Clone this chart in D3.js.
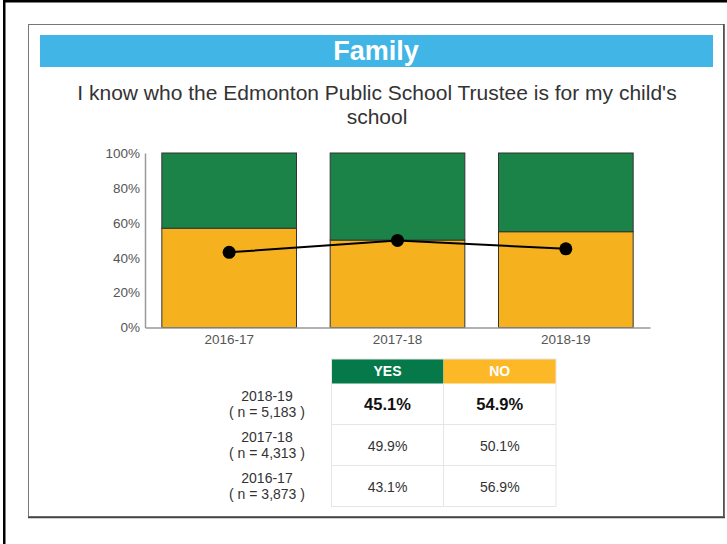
<!DOCTYPE html>
<html>
<head>
<meta charset="utf-8">
<script src="https://cdn.jsdelivr.net/npm/d3@7"></script>
<style>
  html, body { margin: 0; padding: 0; background: #fff; }
  svg { display: block; font-family: "Liberation Sans", Arial, sans-serif; }
</style>
</head>
<body>
<svg id="chart" width="727" height="544"></svg>
<script>
const categories = ["2016-17", "2017-18", "2018-19"];
const yesValues = [43.1, 49.9, 45.1];
const noValues = [56.9, 50.1, 54.9];
const yTicks = [0, 20, 40, 60, 80, 100];
const tableRows = ["2018-19", "2017-18", "2016-17"];
const tableN = ["5,183", "4,313", "3,873"];
const tableYes = ["45.1%", "49.9%", "43.1%"];
const tableNo = ["54.9%", "50.1%", "56.9%"];
const titleText = "Family";
const subtitleLines = ["I know who the Edmonton Public School Trustee is for my child's", "school"];

const svg = d3.select("#chart");
const FF = "Liberation Sans, Arial, sans-serif";

// outer page frame
svg.append("rect").attr("x", 3).attr("y", 0).attr("width", 2.5).attr("height", 544).attr("fill", "#000");
svg.append("rect").attr("x", 3).attr("y", 0).attr("width", 724).attr("height", 2.5).attr("fill", "#000");

// inner box with shadow-like edges
svg.append("rect").attr("x", 28.5).attr("y", 24.5).attr("width", 695).attr("height", 492)
  .attr("fill", "#fff").attr("stroke", "#777").attr("stroke-width", 1);
svg.append("line").attr("x1", 724).attr("x2", 724).attr("y1", 24).attr("y2", 518).attr("stroke", "#444").attr("stroke-width", 1.5);
svg.append("line").attr("x1", 28).attr("x2", 725).attr("y1", 517.5).attr("y2", 517.5).attr("stroke", "#444").attr("stroke-width", 1.5);

// banner
svg.append("rect").attr("x", 40).attr("y", 35).attr("width", 673).attr("height", 32).attr("fill", "#41B5E6");
svg.append("text").attr("x", 376).attr("y", 60).attr("text-anchor", "middle")
  .attr("fill", "#fff").attr("font-weight", "bold").attr("font-size", 27).text(titleText);

// subtitle
subtitleLines.forEach((t, i) => {
  svg.append("text").attr("x", 377).attr("y", 100 + i * 24).attr("text-anchor", "middle")
    .attr("fill", "#333").attr("font-size", 21).text(t);
});

// chart
const x = d3.scaleBand().domain(categories).range([145, 650]).paddingInner(0.2).paddingOuter(0.1);
const y = d3.scaleLinear().domain([0, 100]).range([327.5, 153]);

const g = svg.append("g");
const yellow = "#F5B21E", green = "#1C8348";

g.selectAll(".no").data(categories).join("rect")
  .attr("x", d => x(d)).attr("width", x.bandwidth())
  .attr("y", (d, i) => y(noValues[i])).attr("height", (d, i) => y(0) - y(noValues[i]))
  .attr("fill", yellow).attr("stroke", "#333").attr("stroke-width", 1);
g.selectAll(".yes").data(categories).join("rect")
  .attr("x", d => x(d)).attr("width", x.bandwidth())
  .attr("y", (d, i) => y(noValues[i] + yesValues[i])).attr("height", (d, i) => y(noValues[i]) - y(noValues[i] + yesValues[i]))
  .attr("fill", green).attr("stroke", "#333").attr("stroke-width", 1);

// axes
const yAxis = d3.axisLeft(y).tickValues(yTicks).tickFormat(d => d + "%").tickSize(0).tickPadding(5);
const ya = svg.append("g").attr("transform", "translate(145,0)").call(yAxis);
ya.select(".domain").attr("stroke", "#999").attr("stroke-width", 1.5);
ya.selectAll("text").attr("fill", "#555").attr("font-size", 13.5).attr("font-family", FF);

const xAxis = d3.axisBottom(x).tickSize(0).tickPadding(7).tickSizeOuter(0);
const xa = svg.append("g").attr("transform", "translate(0,327.5)").call(xAxis);
xa.select(".domain").attr("stroke", "#999").attr("stroke-width", 1.5);
xa.selectAll("text").attr("fill", "#555").attr("font-size", 13.5).attr("font-family", FF);

// line
const line = d3.line().x(d => x(d.c) + x.bandwidth() / 2).y(d => y(d.v));
const pts = categories.map((c, i) => ({ c, v: yesValues[i] }));
svg.append("path").datum(pts).attr("d", line).attr("fill", "none").attr("stroke", "#000").attr("stroke-width", 2);
svg.selectAll(".pt").data(pts).join("circle")
  .attr("cx", d => x(d.c) + x.bandwidth() / 2).attr("cy", d => y(d.v)).attr("r", 6.5).attr("fill", "#000");

// table
const colX = [331.5, 443.5, 556];
const headerTop = 359, headerH = 24.5, rowH = 41;
const tg = svg.append("g");
tg.append("rect").attr("x", colX[0]).attr("y", headerTop).attr("width", colX[1] - colX[0]).attr("height", headerH).attr("fill", "#06794A");
tg.append("rect").attr("x", colX[1]).attr("y", headerTop).attr("width", colX[2] - colX[1]).attr("height", headerH).attr("fill", "#FDB827");
[["YES", 0], ["NO", 1]].forEach(([t, i]) => {
  tg.append("text").attr("x", (colX[i] + colX[i + 1]) / 2).attr("y", headerTop + 17).attr("text-anchor", "middle")
    .attr("fill", "#fff").attr("font-weight", "bold").attr("font-size", 14).text(t);
});
tg.append("rect").attr("x", colX[0]).attr("y", headerTop).attr("width", colX[2] - colX[0]).attr("height", headerH + rowH * 3)
  .attr("fill", "none").attr("stroke", "#e6e6e6").attr("stroke-width", 1);
tg.append("line").attr("x1", colX[1]).attr("x2", colX[1]).attr("y1", headerTop + headerH).attr("y2", headerTop + headerH + rowH * 3)
  .attr("stroke", "#e6e6e6");
tableRows.forEach((r, i) => {
  const top = headerTop + headerH + i * rowH;
  if (i > 0) tg.append("line").attr("x1", colX[0]).attr("x2", colX[2]).attr("y1", top).attr("y2", top).attr("stroke", "#e6e6e6");
  tg.append("text").attr("x", 267).attr("y", top + 17).attr("text-anchor", "middle").attr("fill", "#333").attr("font-size", 14).text(r);
  tg.append("text").attr("x", 267).attr("y", top + 33).attr("text-anchor", "middle").attr("fill", "#333").attr("font-size", 14)
    .attr("xml:space", "preserve").text("( n = " + tableN[i] + " )");
  const bold = i === 0;
  tg.append("text").attr("x", (colX[0] + colX[1]) / 2).attr("y", top + 26).attr("text-anchor", "middle")
    .attr("fill", bold ? "#111" : "#333").attr("font-weight", bold ? "bold" : "normal").attr("font-size", bold ? 16.5 : 14).text(tableYes[i]);
  tg.append("text").attr("x", (colX[1] + colX[2]) / 2).attr("y", top + 26).attr("text-anchor", "middle")
    .attr("fill", bold ? "#111" : "#333").attr("font-weight", bold ? "bold" : "normal").attr("font-size", bold ? 16.5 : 14).text(tableNo[i]);
});
</script>
</body>
</html>
